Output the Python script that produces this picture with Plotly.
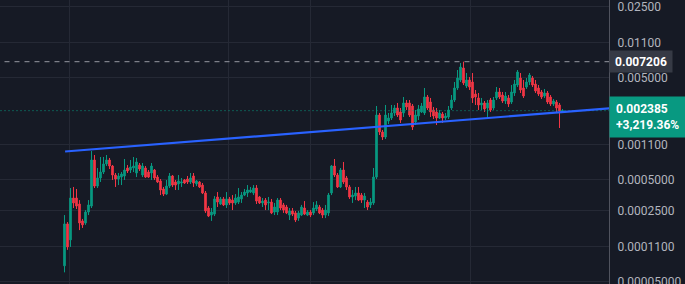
import numpy as np
import plotly.graph_objects as go

# Prices in millionths (x 1e-6)
UNIT = 1e-6
opens = [71.85, 185, 129, 332, 332, 290, 198, 189, 242, 277,
         783, 435, 522, 597, 716, 783, 684, 558, 510, 533,
         546, 654, 625, 654, 584, 699, 558, 654, 597, 584,
         625, 533, 488, 407, 363, 435, 546, 477, 456, 466,
         499, 510, 477, 546, 456, 477, 445, 372, 265, 226,
         231, 340, 290, 325, 284, 325, 317, 297, 303, 325,
         355, 372, 380, 372, 416, 340, 297, 317, 297, 303,
         242, 242, 317, 284, 271, 226, 248, 237, 211, 226,
         265, 226, 242, 237, 259, 271, 253, 226, 237, 372,
         684, 558, 426, 625, 522, 426, 340, 347, 372, 355,
         317, 303, 284, 297, 533, 2163, 1474, 1316, 1889, 2022,
         2264, 2534, 2316, 2264, 2837, 2837, 2651, 1847, 2115, 2316,
         2264, 3248, 2901, 2422, 2316, 2022, 2213, 2022, 2068, 2534,
         3035, 3979, 4767, 6248, 4163, 4767, 4556, 3476, 3176, 2712,
         2837, 2534, 3035, 2534, 3176, 3636, 3398, 2968, 3176, 2901,
         3555, 4258, 4986, 3979, 4070, 4556, 4986, 4355, 3979, 3636,
         3322, 3555, 3248, 2773, 2901, 2712, 2316]
highs = [226, 193, 416, 426, 407, 317, 207, 253, 317, 959,
         877, 654, 838, 838, 877, 820, 699, 584, 584, 597,
         801, 699, 783, 838, 820, 732, 732, 684, 625, 732,
         639, 558, 510, 426, 499, 584, 558, 499, 558, 522,
         510, 546, 584, 584, 499, 488, 466, 389, 277, 265,
         347, 380, 340, 340, 380, 340, 355, 363, 416, 380,
         407, 445, 426, 445, 445, 347, 332, 332, 340, 325,
         297, 332, 332, 297, 284, 265, 265, 248, 248, 284,
         310, 253, 253, 303, 310, 284, 265, 284, 372, 699,
         801, 584, 654, 749, 546, 445, 398, 426, 426, 372,
         372, 317, 332, 654, 2651, 2264, 1542, 2712, 2264, 2712,
         2712, 2837, 2534, 3248, 3035, 3035, 2773, 2422, 2712, 2837,
         3979, 3398, 3176, 2592, 2534, 2422, 2316, 2264, 2651, 3398,
         4556, 5973, 6995, 7206, 5582, 5100, 5582, 3804, 3555, 3176,
         2968, 3035, 3176, 3248, 4070, 3979, 3636, 3636, 3398, 4258,
         4767, 5973, 5582, 4767, 4986, 5582, 5217, 4767, 4258, 3804,
         3891, 3719, 3398, 3105, 3035, 2837, 2478]
lows = [62, 103, 110, 265, 259, 161, 169, 181, 226, 265,
        416, 416, 477, 571, 684, 639, 499, 426, 445, 445,
        499, 584, 584, 597, 533, 611, 533, 522, 522, 499,
        499, 466, 355, 347, 355, 416, 426, 398, 398, 426,
        456, 456, 456, 426, 435, 416, 363, 237, 216, 198,
        221, 271, 284, 277, 265, 284, 253, 284, 290, 297,
        347, 340, 372, 355, 290, 290, 271, 253, 253, 231,
        226, 226, 253, 237, 231, 202, 221, 193, 198, 221,
        226, 221, 216, 226, 248, 231, 211, 211, 221, 355,
        533, 416, 416, 456, 398, 325, 297, 317, 310, 297,
        265, 253, 265, 284, 510, 1377, 1230, 1258, 1765, 1932,
        2115, 2068, 1806, 2068, 2422, 2068, 1542, 1726, 1932, 2264,
        2163, 2422, 2068, 1977, 1726, 1977, 1806, 1932, 1977, 2422,
        2901, 3804, 4556, 4258, 3979, 3804, 2837, 2712, 2422, 2422,
        2316, 2068, 2316, 2422, 3035, 3105, 2837, 2773, 2592, 2773,
        3322, 4070, 3555, 3176, 3891, 4258, 4070, 3555, 3322, 3105,
        3176, 2773, 2651, 2651, 2316, 1613, 2264]
closes = [185, 110, 332, 297, 277, 189, 181, 242, 284, 783,
          435, 522, 597, 716, 783, 684, 558, 510, 546, 571,
          625, 611, 668, 684, 749, 639, 684, 533, 533, 684,
          522, 477, 398, 363, 435, 546, 445, 445, 488, 477,
          466, 477, 522, 466, 488, 426, 372, 248, 221, 242,
          325, 303, 325, 284, 325, 297, 297, 332, 340, 355,
          380, 398, 398, 416, 310, 297, 310, 284, 303, 237,
          271, 317, 265, 253, 237, 248, 231, 202, 237, 271,
          231, 242, 226, 265, 284, 237, 226, 253, 355, 684,
          558, 426, 625, 477, 426, 340, 355, 372, 317, 317,
          347, 271, 303, 533, 2163, 1474, 1316, 2163, 2022, 2264,
          2534, 2163, 1932, 2837, 2592, 2163, 1650, 2163, 2478, 2651,
          3248, 2534, 2316, 2115, 2022, 2264, 2022, 2115, 2422, 3035,
          3979, 4986, 6391, 4455, 4767, 4070, 3176, 3248, 2712, 2837,
          2478, 2837, 2422, 3035, 3636, 3248, 2968, 3322, 2773, 3636,
          4355, 5709, 3804, 3322, 4556, 5336, 4258, 3719, 3476, 3248,
          3555, 2901, 2773, 2968, 2534, 2368, 2385]

# trend line (two anchor points: bar index, price in millionths)
trend_x = [0.2, 190]
trend_y = [949, 2627]

high_mark = 0.007206
last_price = 0.002385
change_text = "+3,219.36%"

tick_vals = [0.025, 0.011, 0.005, 0.0011, 0.0005, 0.00025, 0.00011, 0.00005]
tick_text = ["0.02500", "0.01100", "0.005000", "0.001100", "0.0005000",
             "0.0002500", "0.0001100", "0.00005000"]
grid_x = [1.5, 54.8, 82.0, 135.2]

BG = "#161a25"
GRID = "#252935"
GREEN = "#089981"
RED = "#f23645"
BLUE = "#2962ff"
TXT = "#b2b5be"
FONT = "Roboto, 'Liberation Sans', Arial, sans-serif"

n = len(opens)
idx = list(range(n))
o = [v * UNIT for v in opens]
h = [v * UNIT for v in highs]
l = [v * UNIT for v in lows]
c = [v * UNIT for v in closes]

fig = go.Figure()
fig.add_trace(go.Scatter(x=[-100, 400], y=[high_mark, high_mark], mode="lines",
                         line=dict(color="#9598a1", width=1, dash="5px,5px"),
                         hoverinfo="skip"))
fig.add_trace(go.Scatter(x=[-100, 400], y=[last_price, last_price], mode="lines",
                         line=dict(color=GREEN, width=1, dash="1px,3px"),
                         hoverinfo="skip"))
fig.add_trace(go.Candlestick(
    x=idx, open=o, high=h, low=l, close=c,
    increasing=dict(line=dict(color=GREEN, width=1), fillcolor=GREEN),
    decreasing=dict(line=dict(color=RED, width=1), fillcolor=RED),
    whiskerwidth=0, hoverinfo="skip"))
fig.add_trace(go.Scatter(x=trend_x, y=[v * UNIT for v in trend_y], mode="lines",
                         line=dict(color=BLUE, width=2.2), hoverinfo="skip"))

W, H = 685, 284
plot_w = 609
step = 3.0
first_px = 64.5
r0 = -first_px / step
r1 = r0 + plot_w / step

fig.update_layout(
    width=W, height=H,
    margin=dict(l=0, r=W - plot_w, t=0, b=0, pad=0, autoexpand=False),
    paper_bgcolor=BG, plot_bgcolor=BG,
    showlegend=False, hovermode=False,
    font=dict(family=FONT, size=12, color=TXT),
    xaxis=dict(range=[r0, r1], tickmode="array", tickvals=grid_x,
               showticklabels=False, ticks="", showgrid=True, gridcolor=GRID,
               gridwidth=1, zeroline=False, showline=False, automargin=False,
               rangeslider=dict(visible=False), fixedrange=True),
    yaxis=dict(type="log", side="right", range=[-4.3218, -1.5375],
               tickmode="array", tickvals=tick_vals, ticktext=tick_text,
               tickfont=dict(family=FONT, size=12, color=TXT),
               ticklabeloverflow="allow", automargin=False,
               showgrid=True, gridcolor=GRID, gridwidth=1, zeroline=False,
               showline=True, linecolor="#50535e", linewidth=1,
               ticks="", ticklabelstandoff=5, fixedrange=True),
    boxgap=0.25,
)

fig.add_annotation(x=1, xref="paper", xanchor="left",
                   y=np.log10(high_mark), yref="y", yanchor="middle",
                   text="<b>0.007206</b>", showarrow=False,
                   font=dict(family=FONT, size=12, color="#ffffff"),
                   bgcolor="#363a45", width=60, height=19, borderpad=1,
                   align="center")
fig.add_annotation(x=1, xref="paper", xanchor="left",
                   y=np.log10(last_price), yref="y", yanchor="middle", yshift=-6,
                   text="<b>0.002385</b><br><b>" + change_text + "</b>",
                   showarrow=False,
                   font=dict(family=FONT, size=12, color="#ffffff"),
                   bgcolor=GREEN, width=64, height=28, borderpad=6,
                   align="left")

fig.write_html("out.html", config=dict(displayModeBar=False))
